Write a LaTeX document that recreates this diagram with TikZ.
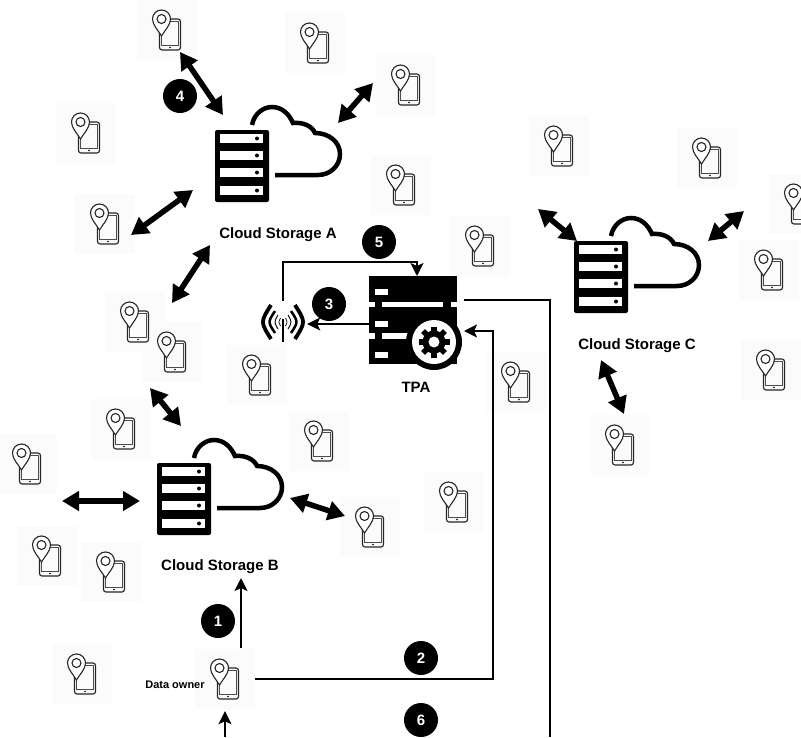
\documentclass[tikz,border=0pt]{standalone}
\usepackage{fontspec}
\setmainfont{Liberation Sans}
\usetikzlibrary{arrows.meta}
\tikzset{
  devbox/.style={draw=none,fill=black!1.5,minimum width=60pt,minimum height=60pt,inner sep=0pt},
  srvbox/.style={draw=none,fill=black,rounded corners=2pt,minimum width=54pt,minimum height=72pt,inner sep=0pt},
  tpabox/.style={draw=none,fill=black,minimum width=88pt,minimum height=88pt,inner sep=0pt},
  badge/.style={circle,fill=black,text=white,minimum size=34pt,inner sep=0pt,font=\bfseries\fontsize{15}{15}\selectfont},
  lbl/.style={font=\bfseries\fontsize{15}{16}\selectfont,inner sep=0pt},
  dbl/.style={line width=5.5pt,{Triangle[length=17pt,width=19pt]}-{Triangle[length=17pt,width=19pt]}},
  conn/.style={line width=2pt},
  arr/.style={line width=2pt,-{Stealth[length=13pt,width=13pt,inset=3pt]}},
  devicon/.pic={
    \draw[line width=1.1pt,black!85,rounded corners=2.5pt] (-7.5,-11) rectangle (13.5,20);
    \draw[line width=.6pt,black!70] (-5.5,-9) rectangle (11.5,15);
    \fill[black] (3,17.5) circle (.8pt);
    \draw[line width=1.1pt,black!85,fill=white] (-5.5,6) .. controls (-9,0) and (-14.5,-5) .. (-14.5,-11)
      .. controls (-14.5,-16) and (-10.5,-20) .. (-5.5,-20)
      .. controls (-0.5,-20) and (3.5,-16) .. (3.5,-11)
      .. controls (3.5,-5) and (-2,0) .. cycle;
    \draw[line width=1.1pt,black!85] (-5.5,-11) circle (4.5pt);
  },
  srvicon/.pic={
    \foreach \yy in {-32,-15,2,20}{
      \fill[white] (-22,\yy) rectangle (21,\yy+9);
      \fill[black] (15,\yy+4.5) circle (2pt);
    }
    \draw[line width=4.5pt,line cap=butt] (10,-41) .. controls (12,-52) and (21,-59) .. (30,-59)
      .. controls (40,-59) and (47,-52) .. (51,-43)
      .. controls (61,-44) and (70,-40) .. (73,-33)
      .. controls (87,-33) and (98,-24) .. (98,-12)
      .. controls (98,0) and (88,9) .. (76,9) -- (33,9);
  },
  tpaicon/.pic={
    \foreach \yy in {-31,1,32}{\fill[white] (-38,\yy) rectangle (-25,\yy+6);}
    \fill[white] (-44,-18) rectangle (-38,-13);
    \fill[white] (-31,-18) rectangle (30,-13);
    \fill[white] (38,-18) rectangle (44,-13);
    \fill[white] (-44,13) rectangle (-38,19);
    \fill[white] (-31,13) rectangle (0,19);
    \fill[black] (21,22) circle (28pt);
    \fill[white] (21,22) circle (22pt);
    \foreach \a in {0,45,90,135}{
      \draw[line width=5.5pt] ({21+15.5*cos(\a)},{22+15.5*sin(\a)}) -- ({21-15.5*cos(\a)},{22-15.5*sin(\a)});
    }
    \fill[black] (21,22) circle (11.5pt);
    \fill[white] (21,22) circle (5.5pt);
  },
  wifiicon/.pic={
    \draw[line width=2pt] (0,-3) -- (0,20);
    \foreach \e/\h/\c/\w in {2.5/4/4.5/.7,5/7/9/.9,8/11/15.3/2.5,12/17/22.7/3.8}{
      \draw[line width=\w pt] (\e,-\h) .. controls (\c,0) .. (\e,\h);
      \draw[line width=\w pt] (-\e,-\h) .. controls (-\c,0) .. (-\e,\h);
    }
  }
}
\newcommand{\devlist}{d1/167/30,d2/315/43,d3/406/85,d4/86/133,d5/401/185,d6/559/146,d7/707/158,d8/799/204,d9/105/224,d10/480/246,d11/769/270,d12/135/322,d14/257/375,d13/172/352,d15/516/382,d16/771/370,d17/121/429,d18/319/441,d19/620/445,d20/27/464,d21/454/502,d22/370/527,d23/47/556,d24/111/572,d25/82/674,owner/225/679}
\begin{document}
\begin{tikzpicture}[x=1pt,y=-1pt]
\useasboundingbox (0,0) rectangle (801,737);
\clip (0,0) rectangle (801,737);
\foreach \n/\x/\y in \devlist{
  \node[devbox] (\n) at (\x,\y) {};
}
\foreach \n/\x/\y in \devlist{
  \pic at (\x,\y) {devicon};
}
\node[srvbox] (srvA) at (242,166) {};
\pic at (srvA) {srvicon};
\node[srvbox] (srvB) at (184,499) {};
\pic at (srvB) {srvicon};
\node[srvbox] (srvC) at (601,277) {};
\pic at (srvC) {srvicon};
\node[tpabox] (tpa) at (413,320) {};
\pic at (tpa) {tpaicon};
\node[minimum width=48pt,minimum height=42pt,inner sep=0pt] (wifi) at (283,322) {};
\pic at (wifi) {wifiicon};

\node[lbl] (lA) at (278,235) {Cloud Storage A};
\node[lbl] (lB) at (220,567) {Cloud Storage B};
\node[lbl] (lC) at (637,346) {Cloud Storage C};
\node[lbl] (lT) at (416,387) {TPA};
\node[font=\bfseries\fontsize{11}{12}\selectfont,inner sep=0pt] (lO) at (175,685) {Data owner};

\node[badge] (b4) at (180,96) {4};
\node[badge] (b5) at (379,242) {5};
\node[badge] (b3) at (329,304) {3};
\node[badge] (b1) at (218,621) {1};
\node[badge] (b2) at (421,658) {2};
\node[badge] (b6) at (421,720) {6};

\foreach \n/\ax/\ay/\bx/\by in {a/180/52/223/115,b/373/83/338/123,c/193/190/131/235,d/210/245/172/303,e/150/388/181/426,f/62/501/140/501,g/290/498/345/516,h/538/209/577/241,i/744/211/708/241,j/601/360/624/414}{
  \coordinate (\n1) at (\ax,\ay);
  \coordinate (\n2) at (\bx,\by);
  \draw[dbl] (\n1) -- (\n2);
}
\coordinate (p1) at (241,648);
\coordinate (p1e) at (241,578);
\draw[arr] (p1) -- (p1e);
\coordinate (pb) at (225,737);
\draw[arr,shorten >=2pt] (pb) -- (owner.south);
\coordinate (p2) at (464,331);
\coordinate (p2c) at (493,331);
\draw[arr] (owner.east) -| (p2c) -- (p2);
\coordinate (p3) at (369,324);
\draw[arr] (p3) -- (wifi.east |- p3);
\coordinate (p5) at (417,276);
\draw[arr] (wifi.north) -- ++(0,-39) -| (p5);
\coordinate (p6) at (464,300);
\coordinate (p6e) at (550,737);
\draw[conn] (p6) -| (p6e);
\end{tikzpicture}
\end{document}
